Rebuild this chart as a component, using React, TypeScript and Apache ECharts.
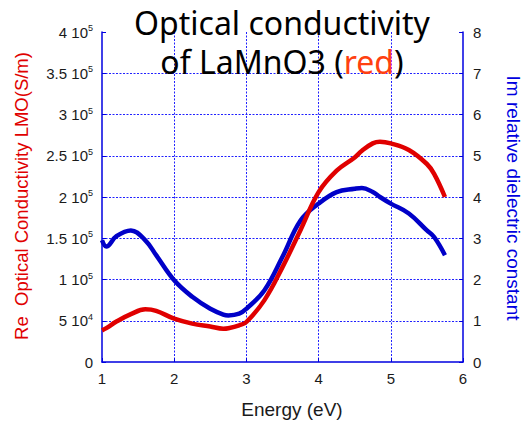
import React, { useEffect, useRef } from "react";
import * as echarts from "echarts";

const energies = [1, 1.06, 1.2, 1.4, 1.6, 1.75, 2, 2.25, 2.5, 2.68, 2.75, 2.9, 3, 3.25, 3.5, 3.75, 4, 4.25, 4.5, 4.6, 4.75, 4.85, 5, 5.25, 5.5, 5.6, 5.75];
const redConductivity = [38400, 41000, 49000, 58000, 63800, 62000, 52500, 46500, 43000, 40400, 41000, 44500, 48500, 75000, 115000, 160000, 206000, 232000, 248000, 256000, 265000, 267000, 265000, 257000, 240000, 228000, 200000];
const blueDielectric = [2.95, 2.8, 3.05, 3.19, 2.95, 2.59, 1.98, 1.58, 1.29, 1.15, 1.13, 1.17, 1.29, 1.74, 2.55, 3.43, 3.84, 4.12, 4.2, 4.22, 4.12, 4.0, 3.84, 3.6, 3.19, 3.03, 2.59];

const titleLine1 = "Optical conductivity";
const titleLine2 = "of LaMnO3 (";
const leftAxisName = "Re  Optical Conductivity LMO(S/m)";
const rightAxisName = "Im relative dielectric constant";
const xAxisName = "Energy (eV)";

const FONT = "'Liberation Sans', Arial, sans-serif";
const TITLE_FONT = "32px 'Noto Sans', sans-serif";
const BLUE = "#0000e0";
const GRID_BLUE = "#2020ff";

export default function App() {
  const ref = useRef<HTMLDivElement>(null);
  useEffect(() => {
    if (!ref.current) return;
    const chart = echarts.init(ref.current, null, { renderer: "svg" });
    const leftLabel = (v: number) => {
      if (v === 0) return "0";
      if (v >= 100000) return `${+(v / 100000).toFixed(1)} 10{s|5}`;
      return `${+(v / 10000).toFixed(1)} 10{s|4}`;
    };
    chart.setOption({
      animation: false,
      backgroundColor: "#ffffff",
      grid: { left: 102, right: 64, top: 32, bottom: 62, containLabel: false },
      xAxis: {
        type: "value",
        min: 1,
        max: 6,
        interval: 1,
        axisLine: { show: true, lineStyle: { color: BLUE, width: 1.5 } },
        axisTick: { show: true, inside: true, length: 4, lineStyle: { color: BLUE } },
        axisLabel: { color: "#1a1a1a", fontSize: 15, fontFamily: FONT, margin: 9 },
        splitLine: { show: true, showMinLine: false, showMaxLine: false, lineStyle: { color: GRID_BLUE, type: [2, 1.5], width: 1 } },
      },
      yAxis: [
        {
          type: "value",
          min: 0,
          max: 400000,
          interval: 50000,
          position: "left",
          axisLine: { show: true, lineStyle: { color: BLUE, width: 1.5 } },
          axisTick: { show: true, inside: true, length: 4, lineStyle: { color: BLUE } },
          axisLabel: {
            color: "#1a1a1a",
            fontSize: 15,
            fontFamily: FONT,
            margin: 9,
            formatter: leftLabel,
            rich: {
              s: { fontSize: 9, fontFamily: FONT, color: "#1a1a1a", padding: [0, 0, 8, 0] },
            },
          },
          splitLine: { show: true, showMinLine: false, showMaxLine: false, lineStyle: { color: GRID_BLUE, type: [2, 1.5], width: 1 } },
        },
        {
          type: "value",
          min: 0,
          max: 8,
          interval: 1,
          position: "right",
          axisLine: { show: true, lineStyle: { color: BLUE, width: 1.5 } },
          axisTick: { show: true, inside: true, length: 4, lineStyle: { color: BLUE } },
          axisLabel: { color: "#1a1a1a", fontSize: 15, fontFamily: FONT, margin: 10 },
          splitLine: { show: false },
        },
      ],
      series: [
        {
          type: "line",
          yAxisIndex: 0,
          data: energies.map((e, i) => [e, redConductivity[i]]),
          smooth: 0.4,
          showSymbol: false,
          lineStyle: { color: "#e00000", width: 4.5 },
          z: 3,
        },
        {
          type: "line",
          yAxisIndex: 1,
          data: energies.map((e, i) => [e, blueDielectric[i]]),
          smooth: 0.4,
          showSymbol: false,
          lineStyle: { color: "#0000c8", width: 4.5 },
          z: 2,
        },
      ],
      graphic: [
        {
          type: "text",
          x: 282,
          y: 22,
          z: 10,
          style: {
            text: titleLine1,
            font: TITLE_FONT,
            fill: "#000",
            align: "center",
            verticalAlign: "middle",
          },
        },
        {
          type: "text",
          x: 282,
          y: 61,
          z: 10,
          style: {
            text: `${titleLine2}{r|red}{k|)}`,
            font: TITLE_FONT,
            fill: "#000",
            align: "center",
            verticalAlign: "middle",
            rich: {
              r: { fill: "#ff4010", font: TITLE_FONT },
              k: { fill: "#000", font: TITLE_FONT },
            },
          },
        },
        {
          type: "text",
          x: 21,
          y: 196,
          rotation: Math.PI / 2,
          style: {
            text: leftAxisName,
            font: `18.5px ${FONT}`,
            fill: "#e00000",
            align: "center",
            verticalAlign: "middle",
          },
        },
        {
          type: "text",
          x: 513,
          y: 198,
          rotation: -Math.PI / 2,
          style: {
            text: rightAxisName,
            font: `19px ${FONT}`,
            fill: "#0000e0",
            align: "center",
            verticalAlign: "middle",
          },
        },
        {
          type: "text",
          x: 292,
          y: 409,
          style: {
            text: xAxisName,
            font: `19px ${FONT}`,
            fill: "#1a1a1a",
            align: "center",
            verticalAlign: "middle",
          },
        },
      ],
    });
    return () => chart.dispose();
  }, []);
  return <div ref={ref} style={{ position: "absolute", left: 0, top: 0, width: 527, height: 424 }} />;
}
